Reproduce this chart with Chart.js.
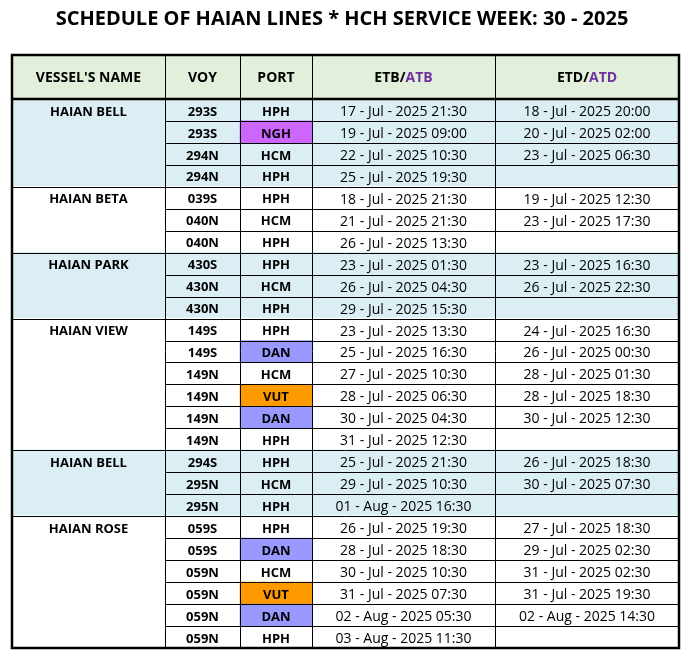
<!DOCTYPE html>
<html><head><meta charset="utf-8">
<script src="https://cdn.jsdelivr.net/npm/chart.js@4.4.0/dist/chart.umd.min.js"></script>
<style>html,body{margin:0;padding:0;background:#fff}canvas{display:block}</style>
</head><body>
<div style="width:684px;height:654px"><canvas id="c"></canvas></div>
<script>
const title = "SCHEDULE OF HAIAN LINES * HCH SERVICE WEEK: 30 - 2025";
const headers = ["VESSEL'S NAME", "VOY", "PORT", "ETB/ATB", "ETD/ATD"];
const vessels = ["HAIAN BELL", "HAIAN BETA", "HAIAN PARK", "HAIAN VIEW", "HAIAN BELL", "HAIAN ROSE"];
const groupSizes = [4, 3, 3, 6, 3, 6];
const voy = ["293S","293S","294N","294N","039S","040N","040N","430S","430N","430N","149S","149S","149N","149N","149N","149N","294S","295N","295N","059S","059S","059N","059N","059N","059N"];
const port = ["HPH","NGH","HCM","HPH","HPH","HCM","HPH","HPH","HCM","HPH","HPH","DAN","HCM","VUT","DAN","HPH","HPH","HCM","HPH","HPH","DAN","HCM","VUT","DAN","HPH"];
const etb = ["17 - Jul - 2025 21:30","19 - Jul - 2025 09:00","22 - Jul - 2025 10:30","25 - Jul - 2025 19:30","18 - Jul - 2025 21:30","21 - Jul - 2025 21:30","26 - Jul - 2025 13:30","23 - Jul - 2025 01:30","26 - Jul - 2025 04:30","29 - Jul - 2025 15:30","23 - Jul - 2025 13:30","25 - Jul - 2025 16:30","27 - Jul - 2025 10:30","28 - Jul - 2025 06:30","30 - Jul - 2025 04:30","31 - Jul - 2025 12:30","25 - Jul - 2025 21:30","29 - Jul - 2025 10:30","01 - Aug - 2025 16:30","26 - Jul - 2025 19:30","28 - Jul - 2025 18:30","30 - Jul - 2025 10:30","31 - Jul - 2025 07:30","02 - Aug - 2025 05:30","03 - Aug - 2025 11:30"];
const etd = ["18 - Jul - 2025 20:00","20 - Jul - 2025 02:00","23 - Jul - 2025 06:30","","19 - Jul - 2025 12:30","23 - Jul - 2025 17:30","","23 - Jul - 2025 16:30","26 - Jul - 2025 22:30","","24 - Jul - 2025 16:30","26 - Jul - 2025 00:30","28 - Jul - 2025 01:30","28 - Jul - 2025 18:30","30 - Jul - 2025 12:30","","26 - Jul - 2025 18:30","30 - Jul - 2025 07:30","","27 - Jul - 2025 18:30","29 - Jul - 2025 02:30","31 - Jul - 2025 02:30","31 - Jul - 2025 19:30","02 - Aug - 2025 14:30",""];

// layout (not data)
const colEdges = [0, 153, 228, 300, 483, 667];
const portColors = {NGH:"#CC66FF", DAN:"#9999FF", VUT:"#FF9900"};
const groupBg = ["#DAEEF3", "#FFFFFF"];
const FONT = '"Open Sans", "Noto Sans", sans-serif';

const rowGroup = [];
groupSizes.forEach((n,g)=>{for(let i=0;i<n;i++) rowGroup.push(g);});
const rowBars = voy.map((v,i)=>({x:[colEdges[0],colEdges[5]], y:2.5+i}));
const rowColors = voy.map((v,i)=>groupBg[rowGroup[i]%2]);
const portBars = [], portBarColors = [];
port.forEach((p,i)=>{ if(portColors[p]){ portBars.push({x:[colEdges[2],colEdges[3]], y:2.5+i}); portBarColors.push(portColors[p]); } });

const tablePlugin = {
  id:'table',
  afterDatasetsDraw(chart){
    const ctx = chart.ctx, xs = chart.scales.x, ys = chart.scales.y;
    const X = v=>xs.getPixelForValue(v), Y = v=>ys.getPixelForValue(v);
    ctx.save();
    ctx.fillStyle = '#000'; ctx.textAlign='center'; ctx.textBaseline='middle';
    ctx.font = 'bold 20px ' + FONT;
    ctx.fillText(title, 342, 19);
    ctx.strokeStyle='#000'; ctx.lineWidth=1;
    const n = voy.length;
    let start = 0; const groupStarts=[];
    groupSizes.forEach(s=>{groupStarts.push(start); start+=s;});
    for(let i=1;i<n;i++){
      const y = Math.round(Y(2+i))+0.5;
      const isGroup = groupStarts.includes(i);
      ctx.beginPath(); ctx.moveTo(isGroup?X(0):X(colEdges[1]), y); ctx.lineTo(X(colEdges[5]), y); ctx.stroke();
    }
    for(let c=1;c<5;c++){
      const x = Math.round(X(colEdges[c]))+0.5;
      ctx.beginPath(); ctx.moveTo(x, Y(0)); ctx.lineTo(x, Y(2+n)); ctx.stroke();
    }
    ctx.lineWidth=2.5;
    ctx.strokeRect(X(0), Y(0), X(colEdges[5])-X(0), Y(2+n)-Y(0));
    ctx.beginPath(); ctx.moveTo(X(0), Y(2)); ctx.lineTo(X(colEdges[5]), Y(2)); ctx.stroke();
    ctx.font = 'bold 14px ' + FONT;
    const hy = Y(1)+1;
    for(let c=0;c<5;c++){
      const cx = (X(colEdges[c])+X(colEdges[c+1]))/2;
      if(c>=3){
        const parts = headers[c].split('/');
        const a = parts[0]+'/', b = parts[1];
        const wa = ctx.measureText(a).width, wb = ctx.measureText(b).width;
        ctx.textAlign='left';
        ctx.fillStyle='#000'; ctx.fillText(a, cx-(wa+wb)/2, hy);
        ctx.fillStyle='#7030A0'; ctx.fillText(b, cx-(wa+wb)/2+wa, hy);
        ctx.textAlign='center'; ctx.fillStyle='#000';
      } else ctx.fillText(headers[c], cx, hy);
    }
    ctx.font = 'bold 13px ' + FONT;
    vessels.forEach((v,g)=>{ ctx.fillText(v, (X(colEdges[0])+X(colEdges[1]))/2, Y(2.5+groupStarts[g])+2); });
    for(let i=0;i<n;i++){
      const y = Y(2.5+i)+2;
      ctx.font = 'bold 13px ' + FONT;
      ctx.fillText(voy[i], (X(colEdges[1])+X(colEdges[2]))/2, y);
      ctx.fillText(port[i], (X(colEdges[2])+X(colEdges[3]))/2, y);
      ctx.font = '14px ' + FONT;
      ctx.fillText(etb[i], (X(colEdges[3])+X(colEdges[4]))/2, y);
      if(etd[i]) ctx.fillText(etd[i], (X(colEdges[4])+X(colEdges[5]))/2, y);
    }
    ctx.restore();
  }
};

new Chart(document.getElementById('c'), {
  type:'bar',
  data:{datasets:[
    {data:[{x:[colEdges[0],colEdges[5]], y:1}], backgroundColor:'#E2EFDA', barThickness:45, grouped:false, order:2},
    {data:rowBars, backgroundColor:rowColors, barThickness:23, grouped:false, order:1},
    {data:portBars, backgroundColor:portBarColors, barThickness:22, grouped:false, order:0}
  ]},
  options:{
    indexAxis:'y', responsive:true, maintainAspectRatio:false, animation:false,
    layout:{padding:{left:12,right:5,top:55,bottom:6}},
    plugins:{legend:{display:false}, tooltip:{enabled:false}},
    scales:{
      x:{type:'linear', min:0, max:667, display:false, offset:false},
      y:{type:'linear', min:0, max:27, reverse:true, display:false, offset:false}
    }
  },
  plugins:[tablePlugin]
});
</script>
</body></html>
